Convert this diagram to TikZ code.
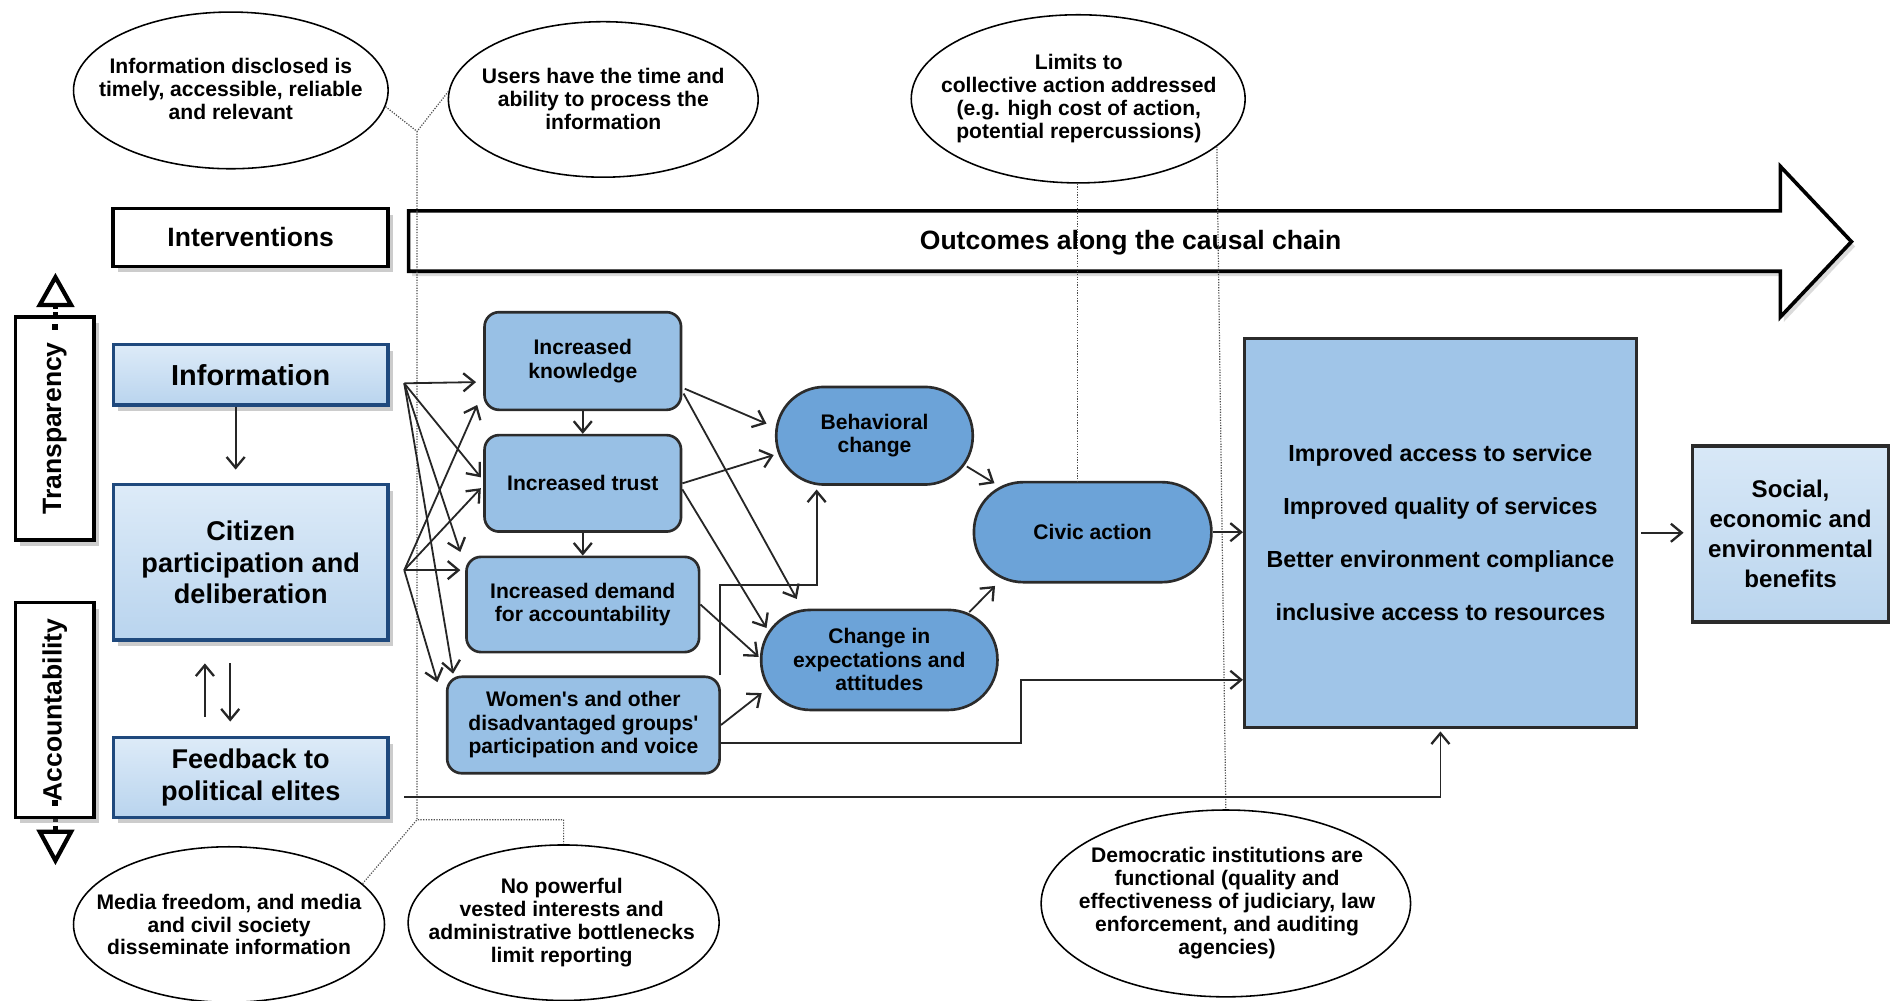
\documentclass[tikz,border=0pt]{standalone}
\usepackage{fontspec}
\usepackage{graphicx}
\newfontfamily\lsans{Liberation Sans}
\usetikzlibrary{shapes.geometric,shadows,calc,arrows.meta}
\definecolor{lborder}{HTML}{1F497D}
\definecolor{ltop}{HTML}{DDEBF8}
\definecolor{lbot}{HTML}{B9D4EE}
\definecolor{midfill}{HTML}{98C0E5}
\definecolor{ovalfill}{HTML}{6CA3D8}
\definecolor{impfill}{HTML}{A0C5E8}
\definecolor{soctop}{HTML}{D8E8F7}
\definecolor{socbot}{HTML}{BAD5EE}
\definecolor{edgec}{HTML}{2B2B2B}
\definecolor{dotc}{HTML}{4D4D4D}
\newcommand\fEll{\lsans\bfseries\fontsize{17.5}{19}\selectfont}
\newcommand\fMid{\lsans\bfseries\fontsize{17.5}{19.5}\selectfont}
\newcommand\fLeft{\lsans\bfseries\fontsize{22.5}{26.5}\selectfont}
\newcommand\fBig{\lsans\bfseries\fontsize{22}{26}\selectfont}
\newcommand\fSide{\lsans\bfseries\fontsize{22}{26}\selectfont}
\newcommand\fImp{\lsans\bfseries\fontsize{19.3}{44}\selectfont}
\newcommand\fSoc{\lsans\bfseries\fontsize{20}{25}\selectfont}
\begin{document}
\begin{tikzpicture}[x=1pt,y=-1pt,
  ell/.style={ellipse, draw=black, line width=1.3pt, fill=white, inner sep=0pt},
  etext/.style={font=\fEll, align=center, inner sep=0pt, text=black},
  shad/.style={drop shadow={shadow xshift=4pt, shadow yshift=-5pt, fill=black!50, opacity=0.4}},
  lbox/.style={rectangle, draw=lborder, line width=2.8pt, top color=ltop, bottom color=lbot, font=\fLeft, align=center, inner sep=0pt, shad},
  mbox/.style={rectangle, rounded corners=12pt, draw=edgec, line width=2.2pt, fill=midfill, font=\fMid, align=center, inner sep=0pt},
  obox/.style={rectangle, rounded corners=40pt, draw=edgec, line width=2.2pt, fill=ovalfill, font=\fMid, align=center, inner sep=0pt},
  tabox/.style={rectangle, draw=black, line width=2.8pt, fill=white, font=\fSide, inner sep=0pt, shad},
  arr/.style={draw=black!85, line width=1.5pt, -{Straight Barb[length=9pt,width=15pt,line width=1.9pt]}},
  dotl/.style={draw=dotc, line width=1pt, dash pattern=on 1pt off 1.2pt},
]
\useasboundingbox (0,0) rectangle (1568,830);
\fill[white] (0,0) rectangle (1568,830);

% big outcome arrow
\draw[line width=3pt, fill=white, line join=miter, drop shadow={shadow xshift=3pt, shadow yshift=-4pt, fill=black!40, opacity=0.35}]
  (339,175) -- (1477,175) -- (1477,138) -- (1536,200.5) -- (1477,263) -- (1477,225) -- (339,225) -- cycle;
\node[font=\fBig, inner sep=0pt] (outc) at (938,201) {Outcomes along the causal chain};
\node[rectangle, draw=black, line width=3pt, fill=white, minimum width=228pt, minimum height=48pt, font=\fBig, inner sep=0pt, shad] (intv) at (208,197) {Interventions};

% side labels
\draw[line width=4pt, dash pattern=on 4pt off 3pt] (46,252) -- (46,263);
\draw[line width=4pt, dash pattern=on 4pt off 3pt] (46,678) -- (46,690);
\draw[line width=3.5pt, fill=white, line join=miter] (46,230) -- (59,253) -- (33,253) -- cycle;
\draw[line width=3.5pt, fill=white, line join=miter] (46,714) -- (59,690) -- (33,690) -- cycle;
\node[tabox, minimum width=65pt, minimum height=185pt] (trans) at (45.5,355.5) {\rotatebox{90}{Transparency}};
\node[tabox, minimum width=65pt, minimum height=178pt] (acct) at (45.5,589) {\rotatebox{90}{Accountability}};
\fill (43.5,268.5) rectangle (48.5,273.5);
\fill (43.5,664) rectangle (48.5,669);

% dotted assumption lines
\coordinate (jt) at (346,109);
\coordinate (jb) at (346,680);

% assumption ellipses
\node[ell, minimum width=261pt, minimum height=130pt] (eA) at (191.5,75) {};
\node[ell, minimum width=257pt, minimum height=129pt] (eB) at (500.5,82.5) {};
\node[ell, minimum width=277pt, minimum height=139.5pt] (eC) at (894.5,82) {};
\node[ell, minimum width=258pt, minimum height=129pt] (eD) at (190,767) {};
\node[ell, minimum width=258pt, minimum height=129pt] (eE) at (467.6,765.5) {};
\node[ell, minimum width=306.5pt, minimum height=155pt] (eF) at (1017,749.5) {};

\node[etext] (tA) at (191.5,73.5) {Information disclosed is\\timely, accessible, reliable\\and relevant};
\node[etext] (tB) at (500.5,82) {Users have the time and\\ability to process the\\information};
\node[etext] (tC) at (895,82) {Limits to\\collective action addressed\\(e.g. high cost of action,\\potential repercussions)};
\node[etext] (tD) at (190,767) {Media freedom, and media\\and civil society\\disseminate information};
\node[etext] (tE) at (466,765.5) {No powerful\\vested interests and\\administrative bottlenecks\\limit reporting};
\node[etext] (tF) at (1018,749) {Democratic institutions are\\functional (quality and\\effectiveness of judiciary, law\\enforcement, and auditing\\agencies)};

% left boxes
\node[lbox, minimum width=228pt, minimum height=50pt, font=\lsans\bfseries\fontsize{24}{27}\selectfont] (info) at (208,311) {Information};
\node[lbox, minimum width=228pt, minimum height=129pt] (cit) at (208,466.5) {Citizen\\participation and\\deliberation};
\node[lbox, minimum width=228pt, minimum height=66pt, font=\lsans\bfseries\fontsize{22.5}{26}\selectfont] (fb) at (208,645) {Feedback to\\political elites};

% middle boxes
\node[mbox, minimum width=163pt, minimum height=81pt] (know) at (483.5,299.5) {Increased\\knowledge};
\node[mbox, minimum width=163pt, minimum height=80pt] (trust) at (483.5,401) {Increased trust};
\node[mbox, minimum width=193pt, minimum height=79pt] (demand) at (483.5,501.5) {Increased demand\\for accountability};
\node[mbox, minimum width=226pt, minimum height=80pt] (women) at (484,601.5) {Women's and other\\disadvantaged groups'\\participation and voice};

% oval boxes
\node[obox, minimum width=163pt, minimum height=81pt] (behav) at (725.5,361.5) {Behavioral\\change};
\node[obox, minimum width=196pt, minimum height=83pt, rounded corners=41pt] (change) at (729.5,547.5) {Change in\\expectations and\\attitudes};
\node[obox, minimum width=197pt, minimum height=83pt, rounded corners=41pt] (civic) at (906.5,441.5) {Civic action};

% outcome boxes
\node[rectangle, draw=edgec, line width=2.6pt, fill=impfill, minimum width=325pt, minimum height=323pt, font=\fImp, align=center, inner sep=0pt] (imp) at (1195,442) {Improved access to service\\Improved quality of services\\Better environment compliance\\inclusive access to resources};
\node[rectangle, draw=edgec, line width=2.6pt, top color=soctop, bottom color=socbot, minimum width=163pt, minimum height=146pt, font=\fSoc, align=center, inner sep=0pt] (soc) at (1485.5,443) {Social,\\economic and\\environmental\\benefits};

% dotted lines
\coordinate (cx) at ($(civic.north)+(-12.5,0)$);
\draw[dotl] (eA.-6) -- (jt) -- (jb);
\draw[dotl] (eB.177) -- (jt);
\draw[dotl] (eD.17) -- (jb) -- (jb -| eE.north) -- (eE.north);
\draw[dotl] (eC.south -| cx) -- (cx);
\draw[dotl] (eC.-19) -- (eF.north);

% left connectors
\draw[arr] ([xshift=-12.5pt]info.south) -- ([xshift=-12.5pt,yshift=11pt]cit.north);
\draw[arr] ([xshift=-38pt,yshift=16pt]fb.north) -- ([xshift=-38pt,yshift=-18pt]cit.south);
\draw[arr] ([xshift=-17pt,yshift=-18pt]cit.south) -- ([xshift=-17pt,yshift=12pt]fb.north);

% fans
\coordinate (fi) at ($(info.east)+(12,7)$);
\coordinate (fc) at ($(cit.east)+(12,6.5)$);
\draw[arr] (fi) -- ([xshift=-6pt,yshift=-17.5pt]know.west);
\draw[arr] (fi) -- ([xshift=-2pt,yshift=5pt]trust.west);
\draw[arr] (fi) -- ([xshift=-4pt,yshift=3pt]demand.north west);
\draw[arr] (fi) -- ([xshift=6pt,yshift=1.5pt]women.north west);
\draw[arr] (fc) -- ([xshift=-5pt,yshift=-36.5pt]know.west);
\draw[arr] (fc) -- ([xshift=-2pt,yshift=-4pt]trust.west);
\draw[arr] (fc) -- ($(fc -| demand.west)+(-4,0)$);
\draw[arr] (fc) -- ([xshift=-7pt,yshift=-5.5pt]women.north west);

% middle connectors
\draw[arr] (know.south) -- (trust.north);
\draw[arr] (trust.south) -- (trust.south |- demand.north);
\draw[arr] ([xshift=2pt,yshift=-23pt]know.east) -- ([xshift=-7pt,yshift=10pt]behav.west);
\draw[arr] ([xshift=1pt,yshift=-27pt]know.east) -- ([xshift=-68.5pt,yshift=8pt]change.north);
\draw[arr] (trust.east) -- ([xshift=-1pt,yshift=-16pt]behav.west);
\draw[arr] ([yshift=-5pt]trust.east) -- ([xshift=5.5pt,yshift=26.5pt]change.west);
\draw[arr] (demand.east) -- ([xshift=-1pt,yshift=2.5pt]change.west);
\draw[arr] (women.east) -- ([xshift=1.5pt,yshift=-27.5pt]change.west);
\draw[arr] ([xshift=-1pt]women.north east) |- ([xshift=-48pt,yshift=-82pt]behav.south) -- ([xshift=-48pt,yshift=-3pt]behav.south);
\draw[arr] ([yshift=-15pt]women.east) -- ++(249,0) |- ([yshift=-122pt]imp.west);
\draw[arr] ([xshift=12pt,yshift=-16pt]fb.east) -| ([yshift=-2pt]imp.south);

% right connectors
\draw[arr] ([xshift=-6pt,yshift=-25.5pt]behav.east) -- ([xshift=-81.5pt,yshift=-2pt]civic.north);
\draw[arr] ([xshift=-24.5pt,yshift=-3pt]change.north east) -- ([xshift=-81pt,yshift=-2pt]civic.south);
\draw[arr] (civic.east) -- (civic.east -| imp.west);
\draw[arr] ([xshift=3pt]imp.east) -- ($(imp.east -| soc.west)+(-6,0)$);
\end{tikzpicture}
\end{document}
